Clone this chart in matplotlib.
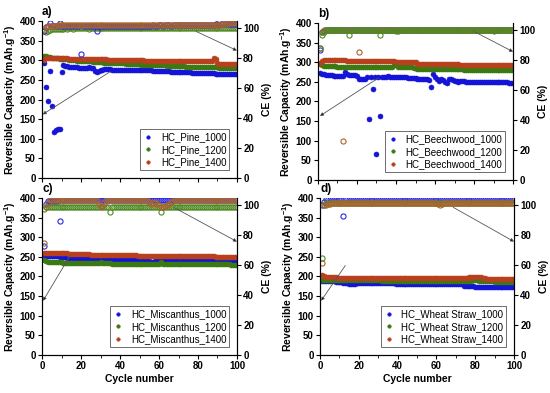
import matplotlib
matplotlib.use("Agg")
import matplotlib.pyplot as plt
from matplotlib.ticker import MultipleLocator

plt.rcParams['font.family'] = ['Liberation Sans', 'DejaVu Sans']
plt.rcParams['mathtext.fontset'] = 'custom'
plt.rcParams['mathtext.rm'] = 'Liberation Sans:bold'
plt.rcParams['mathtext.bf'] = 'Liberation Sans:bold'

cycles = list(range(1, 101))

# ---------------- a) Pine ----------------
pine_labels = ["HC_Pine_1000", "HC_Pine_1200", "HC_Pine_1400"]
pine_1000_cap = [
    293, 231, 197, 272, 184, 117, 122, 124, 125, 269,
    288, 286, 285, 284, 283, 283, 282, 282, 281, 281,
    281, 280, 281, 282, 281, 280, 272, 271, 273, 275,
    276, 277, 277, 277, 277, 276, 276, 276, 276, 276,
    275, 275, 275, 275, 275, 275, 275, 274, 274, 274,
    274, 274, 274, 274, 274, 274, 273, 273, 273, 273,
    273, 273, 273, 272, 272, 271, 270, 270, 270, 270,
    270, 270, 269, 269, 269, 269, 268, 268, 268, 268,
    268, 268, 268, 267, 267, 267, 267, 267, 266, 266,
    266, 266, 266, 266, 266, 265, 265, 265, 265, 265]
pine_1200_cap = [
    312, 310, 309, 308, 307, 306, 305, 305, 304, 303,
    303, 302, 302, 301, 301, 300, 300, 299, 299, 298,
    298, 298, 297, 297, 297, 296, 296, 296, 295, 295,
    295, 294, 294, 294, 293, 293, 293, 293, 292, 292,
    292, 292, 291, 291, 291, 291, 290, 290, 290, 290,
    289, 289, 289, 289, 288, 288, 288, 288, 288, 287,
    287, 287, 287, 286, 286, 286, 286, 286, 285, 285,
    285, 285, 285, 284, 284, 284, 284, 284, 283, 283,
    283, 283, 283, 283, 282, 282, 282, 282, 282, 282,
    281, 281, 281, 281, 281, 281, 281, 280, 280, 280]
pine_1400_cap = [
    300, 306, 307, 307, 306, 306, 306, 305, 305, 305,
    305, 305, 305, 304, 304, 304, 304, 304, 304, 303,
    303, 303, 303, 303, 303, 302, 302, 302, 302, 302,
    302, 302, 302, 301, 301, 301, 301, 301, 301, 301,
    301, 300, 300, 300, 300, 300, 300, 300, 300, 300,
    300, 300, 299, 299, 299, 299, 299, 299, 299, 299,
    299, 299, 299, 299, 298, 298, 298, 298, 298, 298,
    298, 298, 298, 298, 298, 297, 297, 297, 297, 297,
    297, 297, 297, 297, 297, 297, 297, 306, 303, 292,
    290, 290, 290, 290, 290, 290, 290, 290, 290, 290]
pine_1000_ce = [
    98.0, 100.8, 101.2, 103.3, 101.5, 101.6, 101.5, 101.7, 103.2, 101.6,
    101.6, 101.5, 101.6, 101.7, 101.6, 101.5, 101.6, 101.6, 101.7, 82.8,
    101.6, 101.5, 101.6, 101.6, 101.7, 101.6, 101.5, 97.8, 101.6, 101.6,
    101.6, 101.7, 101.6, 101.6, 101.5, 101.6, 101.7, 101.6, 101.6, 101.6,
    101.7, 101.6, 101.6, 101.7, 101.6, 101.6, 101.7, 101.7, 101.6, 101.7,
    101.7, 101.7, 101.6, 101.7, 101.7, 101.7, 101.8, 101.7, 101.7, 101.8,
    101.8, 101.7, 101.8, 101.8, 101.8, 101.7, 101.8, 101.8, 101.8, 101.8,
    101.8, 101.9, 101.8, 101.8, 101.9, 101.8, 101.9, 101.9, 101.8, 101.9,
    101.9, 101.9, 101.9, 102.0, 101.9, 102.0, 102.1, 102.3, 102.5, 102.4,
    102.3, 102.4, 102.5, 102.4, 102.5, 102.6, 102.5, 102.6, 102.7, 102.6]
pine_1200_ce = [
    97.8, 97.6, 97.9, 99.0, 99.4, 99.6, 99.6, 99.7, 99.7, 99.7,
    99.7, 99.8, 99.7, 99.8, 99.8, 99.7, 99.8, 99.8, 99.8, 99.8,
    99.8, 99.8, 99.8, 99.7, 99.8, 99.8, 99.8, 99.8, 99.8, 99.8,
    99.8, 99.8, 99.9, 99.8, 99.8, 99.8, 99.8, 99.9, 99.8, 99.8,
    99.8, 99.9, 99.8, 99.8, 99.9, 99.8, 99.8, 99.9, 99.8, 99.9,
    99.8, 99.9, 99.9, 99.8, 99.9, 99.9, 99.8, 99.9, 99.9, 99.9,
    99.9, 99.9, 99.8, 99.9, 99.9, 99.9, 99.9, 99.9, 99.9, 99.9,
    99.9, 99.9, 99.9, 99.9, 100.0, 99.9, 99.9, 100.0, 99.9, 100.0,
    100.0, 99.9, 100.0, 100.0, 100.0, 100.0, 100.0, 100.0, 100.0, 100.0,
    100.0, 100.0, 100.0, 100.0, 100.0, 100.0, 100.0, 100.0, 100.0, 100.0]
pine_1400_ce = [
    99.0, 100.5, 101.2, 101.5, 101.6, 101.7, 101.7, 101.8, 101.8, 101.8,
    101.8, 101.8, 101.8, 101.8, 101.9, 101.8, 101.8, 101.9, 101.8, 101.8,
    101.9, 101.8, 101.9, 101.8, 101.9, 101.9, 101.8, 101.9, 101.9, 101.8,
    101.9, 101.9, 101.9, 101.8, 101.9, 101.9, 101.9, 101.9, 101.9, 101.9,
    101.9, 101.9, 101.9, 101.9, 101.9, 101.9, 101.9, 101.9, 101.9, 101.9,
    101.9, 101.9, 101.9, 101.9, 102.0, 101.9, 101.9, 102.0, 101.9, 102.0,
    102.0, 101.9, 102.0, 102.0, 102.0, 102.0, 101.9, 102.0, 102.0, 102.0,
    102.0, 102.0, 102.0, 102.0, 102.0, 102.0, 102.0, 102.0, 102.0, 102.0,
    102.0, 102.0, 102.0, 102.0, 102.0, 102.0, 102.1, 102.0, 102.1, 102.1,
    102.2, 102.4, 102.6, 102.8, 103.0, 103.2, 103.4, 103.5, 103.6, 103.6]

# ---------------- b) Beechwood ----------------
beech_labels = ["HC_Beechwood_1000", "HC_Beechwood_1200", "HC_Beechwood_1400"]
beech_1000_cap = [
    272, 270, 269, 268, 268, 267, 267, 266, 266, 265,
    265, 265, 264, 275, 270, 268, 268, 267, 267, 266,
    258, 257, 258, 258, 262, 155, 263, 231, 263, 66,
    262, 163, 263, 263, 263, 264, 263, 263, 262, 262,
    262, 263, 262, 262, 262, 261, 261, 261, 261, 260,
    258, 258, 257, 257, 257, 257, 256, 238, 269, 262,
    258, 252, 258, 256, 250, 247, 257, 258, 256, 252,
    251, 250, 251, 252, 251, 250, 250, 250, 250, 250,
    250, 250, 250, 250, 250, 249, 249, 249, 249, 249,
    249, 249, 249, 249, 249, 249, 249, 248, 248, 248]
beech_1200_cap = [
    295, 292, 291, 291, 290, 290, 290, 290, 290, 289,
    289, 289, 289, 289, 289, 289, 289, 288, 288, 288,
    288, 288, 288, 288, 288, 288, 288, 288, 288, 288,
    288, 288, 288, 287, 287, 287, 287, 287, 292, 293,
    288, 287, 287, 287, 287, 287, 287, 287, 286, 286,
    283, 283, 283, 283, 283, 283, 283, 282, 282, 282,
    282, 282, 282, 282, 282, 282, 282, 282, 282, 282,
    282, 282, 282, 282, 281, 281, 281, 281, 281, 281,
    281, 281, 281, 281, 281, 281, 281, 281, 281, 281,
    281, 281, 281, 281, 281, 281, 281, 281, 281, 281]
beech_1400_cap = [
    298, 303, 305, 306, 306, 306, 306, 305, 305, 305,
    305, 305, 305, 305, 304, 304, 304, 304, 304, 304,
    304, 303, 303, 303, 303, 303, 303, 303, 303, 303,
    302, 302, 302, 302, 302, 302, 302, 302, 302, 301,
    301, 301, 301, 301, 301, 301, 300, 300, 300, 300,
    296, 296, 296, 296, 296, 296, 295, 295, 295, 295,
    295, 295, 295, 295, 295, 295, 295, 295, 295, 295,
    295, 295, 294, 294, 294, 294, 294, 294, 294, 294,
    294, 294, 294, 294, 294, 294, 294, 294, 294, 294,
    294, 294, 294, 294, 294, 294, 294, 294, 294, 294]
beech_1000_ce = [
    86.5, 98.5, 99.6, 99.9, 100.0, 100.0, 100.0, 100.0, 100.0, 100.0,
    100.0, 100.0, 100.0, 100.0, 100.0, 100.0, 100.0, 100.0, 100.0, 100.0,
    100.0, 100.0, 100.0, 100.0, 100.0, 100.0, 100.0, 100.0, 100.0, 100.0,
    100.0, 100.0, 100.0, 100.0, 100.0, 100.0, 100.0, 100.0, 100.0, 100.0,
    100.0, 100.0, 100.0, 100.0, 100.0, 100.0, 100.0, 100.0, 100.0, 100.0,
    100.0, 100.0, 100.0, 100.0, 100.0, 100.0, 100.0, 100.0, 100.0, 100.0,
    100.0, 100.0, 100.0, 100.0, 100.0, 100.0, 100.0, 100.0, 100.0, 100.0,
    100.0, 100.0, 100.0, 100.0, 100.0, 100.0, 100.0, 100.0, 100.0, 100.0,
    100.0, 100.0, 100.0, 100.0, 100.0, 100.0, 100.0, 100.0, 100.0, 100.0,
    100.0, 100.0, 100.0, 100.0, 100.0, 100.0, 100.0, 100.0, 100.0, 100.0]
beech_1200_ce = [
    88.0, 97.0, 99.0, 99.8, 100.1, 100.2, 100.2, 100.2, 100.2, 100.2,
    100.2, 100.2, 100.2, 100.2, 100.2, 96.7, 100.2, 100.2, 100.2, 100.2,
    100.2, 100.2, 100.2, 100.2, 100.2, 100.2, 100.2, 100.2, 100.2, 100.2,
    100.2, 97.0, 100.2, 100.2, 100.2, 100.2, 100.2, 100.2, 100.2, 99.3,
    99.4, 100.0, 100.2, 100.2, 100.2, 100.2, 100.2, 100.2, 100.2, 100.2,
    100.2, 100.2, 100.2, 100.2, 100.2, 100.2, 100.2, 100.2, 100.2, 100.2,
    100.2, 100.2, 100.2, 100.2, 100.2, 100.2, 100.2, 100.2, 100.2, 100.2,
    100.2, 100.2, 100.2, 100.2, 100.2, 100.2, 100.2, 100.2, 100.2, 100.2,
    100.2, 100.2, 100.2, 100.2, 100.2, 100.2, 100.2, 100.2, 100.2, 99.3,
    100.2, 100.2, 100.2, 100.2, 100.2, 100.2, 100.2, 100.2, 100.2, 100.2]
beech_1400_ce = [
    87.7, 99.0, 99.8, 100.0, 100.0, 100.0, 100.0, 100.0, 100.0, 100.0,
    100.0, 100.0, 25.7, 100.0, 100.0, 100.0, 100.0, 100.0, 100.0, 100.0,
    85.5, 100.0, 100.0, 100.0, 100.0, 100.0, 100.0, 100.0, 100.0, 100.0,
    100.0, 100.0, 100.0, 100.0, 100.0, 100.0, 100.0, 100.0, 100.0, 100.0,
    100.0, 100.0, 100.0, 100.0, 100.0, 100.0, 100.0, 100.0, 100.0, 100.0,
    100.0, 100.0, 100.0, 100.0, 100.0, 100.0, 100.0, 100.0, 100.0, 100.0,
    100.0, 100.0, 100.0, 100.0, 100.0, 100.0, 100.0, 100.0, 100.0, 100.0,
    100.0, 100.0, 100.0, 100.0, 100.0, 100.0, 100.0, 100.0, 100.0, 100.0,
    100.0, 100.0, 100.0, 100.0, 100.0, 100.0, 100.0, 100.0, 100.0, 100.0,
    100.0, 100.0, 100.0, 100.0, 100.0, 100.0, 100.0, 100.0, 100.0, 100.0]

# ---------------- c) Miscanthus ----------------
misc_labels = ["HC_Miscanthus_1000", "HC_Miscanthus_1200", "HC_Miscanthus_1400"]
misc_1000_cap = [
    254, 253, 253, 252, 252, 252, 251, 251, 250, 249,
    249, 249, 248, 248, 248, 248, 248, 248, 247, 247,
    247, 247, 247, 247, 247, 246, 246, 246, 246, 246,
    246, 246, 246, 245, 245, 245, 245, 245, 245, 245,
    245, 244, 244, 244, 244, 244, 244, 244, 244, 243,
    243, 243, 243, 243, 240, 238, 238, 240, 243, 242,
    242, 242, 242, 242, 242, 241, 241, 241, 241, 241,
    241, 241, 241, 241, 240, 240, 240, 240, 240, 240,
    240, 240, 240, 240, 240, 240, 239, 239, 239, 239,
    239, 239, 239, 239, 239, 239, 239, 239, 239, 239]
misc_1200_cap = [
    243, 240, 238, 237, 237, 237, 236, 236, 236, 236,
    235, 235, 235, 235, 235, 235, 234, 234, 234, 234,
    234, 234, 234, 234, 234, 234, 234, 234, 235, 236,
    234, 234, 234, 234, 234, 233, 233, 233, 233, 233,
    233, 233, 233, 233, 233, 233, 233, 233, 233, 233,
    233, 233, 233, 233, 233, 233, 233, 233, 233, 233,
    236, 233, 233, 233, 233, 233, 232, 232, 232, 232,
    232, 232, 232, 232, 232, 232, 232, 232, 232, 232,
    232, 231, 232, 232, 232, 231, 231, 231, 231, 231,
    231, 231, 231, 231, 231, 231, 230, 230, 230, 230]
misc_1400_cap = [
    260, 261, 261, 261, 261, 260, 260, 260, 260, 260,
    259, 259, 259, 258, 258, 258, 258, 258, 257, 257,
    257, 257, 257, 257, 256, 256, 256, 256, 256, 256,
    255, 255, 255, 255, 255, 255, 255, 255, 255, 254,
    254, 254, 254, 254, 254, 254, 254, 254, 253, 253,
    253, 253, 253, 253, 253, 253, 253, 253, 252, 252,
    252, 252, 252, 252, 252, 252, 252, 252, 252, 252,
    252, 252, 251, 251, 251, 251, 251, 251, 251, 251,
    251, 251, 251, 251, 251, 251, 251, 251, 250, 250,
    250, 250, 250, 250, 250, 250, 250, 250, 250, 250]
misc_1000_ce = [
    73.0, 100.5, 103.0, 103.0, 103.0, 103.0, 103.0, 103.0, 89.3, 103.3,
    103.3, 103.3, 103.3, 103.3, 103.3, 103.3, 103.3, 103.3, 103.3, 103.3,
    103.3, 103.3, 103.3, 103.3, 103.3, 103.3, 103.3, 103.3, 103.3, 103.3,
    103.3, 103.3, 103.3, 103.3, 103.3, 103.3, 103.3, 103.3, 103.3, 103.3,
    103.3, 103.3, 103.3, 103.3, 103.3, 103.3, 103.3, 103.3, 103.3, 103.3,
    103.3, 103.3, 103.3, 103.3, 103.3, 103.3, 103.3, 103.3, 103.3, 103.3,
    103.3, 103.3, 103.3, 103.3, 103.3, 103.3, 103.3, 103.3, 103.3, 103.3,
    103.3, 103.3, 103.3, 103.3, 103.3, 103.3, 103.3, 103.3, 103.3, 103.3,
    103.3, 103.3, 103.3, 103.3, 103.3, 103.3, 103.3, 103.3, 103.3, 103.3,
    103.3, 103.3, 103.3, 103.3, 103.3, 103.3, 103.3, 103.3, 103.3, 103.3]
misc_1200_ce = [
    97.3, 98.5, 98.8, 99.0, 99.0, 99.0, 99.0, 99.0, 99.0, 99.0,
    99.0, 99.0, 99.0, 99.0, 99.0, 99.0, 99.0, 99.0, 99.0, 99.0,
    99.0, 99.0, 99.0, 99.0, 99.0, 99.0, 99.0, 99.0, 99.0, 99.0,
    99.0, 99.0, 99.0, 99.0, 95.6, 99.0, 99.0, 99.0, 99.0, 99.0,
    99.0, 99.0, 99.0, 99.0, 99.0, 99.0, 99.0, 99.0, 99.0, 99.0,
    99.0, 99.0, 99.0, 99.0, 99.0, 99.0, 99.0, 99.0, 99.0, 99.0,
    95.6, 99.0, 99.0, 99.0, 99.0, 99.0, 99.0, 99.0, 99.0, 99.0,
    99.0, 99.0, 99.0, 99.0, 99.0, 99.0, 99.0, 99.0, 99.0, 99.0,
    99.0, 99.0, 99.0, 99.0, 99.0, 99.0, 99.0, 99.0, 99.0, 99.0,
    99.0, 99.0, 99.0, 99.0, 99.0, 99.0, 99.0, 99.0, 99.0, 99.0]
misc_1400_ce = [
    75.0, 98.5, 101.5, 103.5, 103.5, 103.5, 103.5, 103.5, 103.5, 103.5,
    103.5, 103.5, 103.5, 103.5, 103.5, 103.5, 103.5, 103.5, 103.5, 103.5,
    103.5, 103.5, 103.5, 103.5, 103.5, 103.5, 103.5, 103.5, 101.0, 99.3,
    99.3, 101.5, 103.5, 103.5, 103.5, 103.5, 103.5, 103.5, 103.5, 103.5,
    103.5, 103.5, 103.5, 103.5, 103.5, 103.5, 103.5, 103.5, 103.5, 103.5,
    103.5, 103.5, 103.5, 103.5, 102.0, 101.0, 101.5, 102.0, 101.0, 100.0,
    99.0, 99.0, 99.3, 100.0, 101.0, 102.0, 102.8, 103.5, 103.5, 103.5,
    103.5, 103.5, 103.5, 103.5, 103.5, 103.5, 103.5, 103.5, 103.5, 103.5,
    103.5, 103.5, 103.5, 103.5, 103.5, 103.5, 103.5, 103.5, 103.5, 103.5,
    103.5, 103.5, 103.5, 103.5, 103.5, 103.5, 103.5, 103.5, 103.5, 103.5]

# ---------------- d) Wheat Straw ----------------
wheat_labels = ["HC_Wheat Straw_1000", "HC_Wheat Straw_1200", "HC_Wheat Straw_1400"]
wheat_1000_cap = [
    189, 188, 188, 188, 188, 188, 188, 187, 187, 187,
    186, 184, 183, 183, 182, 182, 182, 182, 183, 183,
    183, 183, 183, 183, 183, 183, 183, 183, 183, 183,
    183, 183, 183, 183, 183, 183, 183, 183, 182, 182,
    182, 182, 182, 182, 182, 182, 182, 182, 182, 182,
    182, 182, 182, 182, 182, 182, 182, 182, 182, 182,
    182, 182, 182, 182, 182, 182, 182, 182, 182, 181,
    181, 181, 181, 176, 175, 175, 175, 175, 175, 174,
    173, 173, 173, 173, 173, 173, 173, 173, 173, 173,
    173, 173, 173, 173, 173, 173, 173, 173, 173, 173]
wheat_1200_cap = [
    191, 191, 190, 190, 190, 190, 190, 190, 190, 190,
    190, 190, 190, 190, 190, 190, 190, 190, 190, 190,
    190, 190, 190, 190, 190, 190, 190, 190, 190, 190,
    190, 189, 189, 189, 189, 189, 189, 189, 189, 189,
    189, 189, 189, 189, 189, 189, 189, 189, 189, 189,
    189, 189, 189, 189, 189, 189, 189, 189, 189, 189,
    189, 189, 189, 189, 189, 189, 189, 189, 189, 189,
    188, 188, 188, 188, 188, 188, 188, 189, 190, 190,
    190, 189, 188, 188, 188, 188, 188, 188, 188, 187,
    187, 187, 187, 187, 187, 187, 187, 187, 187, 187]
wheat_1400_cap = [
    205, 200, 199, 199, 198, 198, 198, 198, 197, 197,
    197, 196, 196, 196, 196, 196, 196, 196, 196, 196,
    196, 196, 196, 196, 195, 195, 195, 195, 195, 195,
    195, 195, 195, 195, 195, 195, 195, 195, 195, 195,
    195, 195, 195, 195, 195, 195, 195, 195, 195, 195,
    195, 195, 195, 195, 195, 195, 195, 195, 195, 196,
    196, 196, 195, 195, 195, 195, 195, 195, 195, 195,
    195, 195, 195, 195, 196, 197, 198, 199, 199, 199,
    199, 199, 198, 197, 195, 194, 194, 194, 194, 194,
    194, 194, 194, 194, 194, 194, 194, 194, 194, 194]
wheat_1000_ce = [
    100.0, 102.0, 103.8, 103.8, 103.8, 103.8, 103.8, 103.8, 103.8, 103.8,
    103.8, 93.0, 104.0, 104.0, 104.0, 104.0, 104.0, 104.0, 104.0, 104.0,
    104.0, 104.0, 104.0, 104.0, 104.0, 104.0, 104.0, 104.0, 104.0, 104.0,
    104.0, 104.0, 104.0, 104.0, 104.0, 104.0, 104.0, 104.0, 104.0, 104.0,
    104.0, 104.0, 104.0, 104.0, 104.0, 104.0, 104.0, 104.0, 104.0, 104.0,
    104.0, 104.0, 104.0, 104.0, 104.0, 104.0, 104.0, 104.0, 104.0, 104.0,
    104.0, 104.0, 104.0, 104.0, 104.0, 104.0, 104.0, 104.0, 104.0, 104.0,
    104.0, 104.0, 104.0, 104.0, 104.0, 104.0, 104.0, 104.0, 104.0, 104.0,
    104.0, 104.0, 104.0, 104.0, 104.0, 104.0, 104.0, 104.0, 104.0, 104.0,
    104.0, 104.0, 104.0, 104.0, 104.0, 104.0, 104.0, 104.0, 104.0, 104.0]
wheat_1200_ce = [
    64.9, 100.0, 101.2, 101.2, 101.2, 101.2, 101.2, 101.2, 101.2, 101.2,
    101.2, 101.2, 101.2, 101.2, 101.2, 101.2, 101.2, 101.2, 101.2, 101.2,
    101.2, 101.2, 101.2, 101.2, 101.2, 101.2, 101.2, 101.2, 101.2, 101.2,
    101.2, 101.2, 101.2, 101.2, 101.2, 101.2, 101.2, 101.2, 101.2, 101.2,
    101.2, 101.2, 101.2, 101.2, 101.2, 101.2, 101.2, 101.2, 101.2, 101.2,
    101.2, 101.2, 101.2, 101.2, 101.2, 101.2, 101.2, 101.2, 101.2, 101.2,
    101.2, 101.2, 101.2, 101.2, 101.2, 101.2, 101.2, 101.2, 101.2, 101.2,
    101.2, 101.2, 101.2, 101.2, 101.2, 101.2, 101.2, 101.2, 101.2, 101.2,
    101.2, 101.2, 101.2, 101.2, 101.2, 101.2, 101.2, 101.2, 101.2, 101.2,
    101.2, 101.2, 101.2, 101.2, 101.2, 101.2, 101.2, 101.2, 101.2, 101.2]
wheat_1400_ce = [
    61.1, 100.3, 99.8, 100.5, 101.0, 101.6, 101.6, 101.6, 101.6, 101.6,
    101.6, 101.6, 101.6, 101.6, 101.6, 101.6, 101.6, 101.6, 101.6, 101.6,
    101.6, 101.6, 101.6, 101.6, 101.6, 101.6, 101.6, 101.6, 101.6, 101.6,
    101.6, 101.6, 101.6, 101.6, 101.6, 101.6, 101.6, 101.6, 101.6, 101.6,
    101.6, 101.6, 101.6, 101.6, 101.6, 101.6, 101.6, 101.6, 101.6, 101.6,
    101.6, 101.6, 101.6, 101.6, 101.6, 101.6, 101.6, 101.6, 101.6, 101.6,
    101.0, 100.2, 100.5, 101.2, 101.6, 101.6, 101.6, 101.6, 101.6, 101.6,
    101.6, 101.6, 101.6, 101.6, 101.6, 101.6, 101.6, 101.6, 101.6, 101.6,
    101.6, 101.6, 101.6, 101.6, 101.6, 101.6, 101.6, 101.6, 101.6, 101.6,
    101.6, 101.6, 101.6, 101.6, 101.6, 101.6, 101.6, 101.6, 101.6, 101.6]

cap_colors = ['#1414d8', '#3b7a12', '#b8401c']
ce_colors = ['#2a2ae0', '#4f8a22', '#a8642e']


def draw_panel(rect, letter, labels, caps, ces, left_arrow, right_arrow,
               ce_order, show_x):
    ax = fig.add_axes(rect)
    ax2 = ax.twinx()
    handles = []
    for i in range(3):
        h, = ax.plot(cycles, caps[i], 'o', ms=3.6, mfc=cap_colors[i],
                     mec=cap_colors[i], mew=0.4, label=labels[i])
        handles.append(h)
    for i in ce_order:
        ax2.plot(cycles, ces[i], 'o', ms=3.7, mfc='none', mec=ce_colors[i],
                 mew=0.8)

    ax.set_xlim(0, 100)
    ax.set_ylim(0, 400)
    ax2.set_ylim(0, 104.7)
    ax.xaxis.set_major_locator(MultipleLocator(20))
    ax.xaxis.set_minor_locator(MultipleLocator(10))
    ax.yaxis.set_major_locator(MultipleLocator(50))
    ax2.yaxis.set_major_locator(MultipleLocator(20))
    for a in (ax, ax2):
        a.tick_params(which='major', length=3, width=0.8, labelsize=7, pad=1.5)
        a.tick_params(which='minor', length=2, width=0.6)
        for s in a.spines.values():
            s.set_linewidth(0.8)
        a.spines['top'].set_visible(False)
        for t in a.get_yticklabels() + a.get_xticklabels():
            t.set_fontweight('bold')
    if not show_x:
        ax.tick_params(labelbottom=False)
    else:
        ax.set_xlabel('Cycle number', fontsize=7.5, fontweight='bold', labelpad=2)

    ax.set_ylabel(r'Reversible Capacity (mAh.g$^{-1}$)', fontsize=7.5,
                  fontweight='bold', labelpad=1)
    ax2.set_ylabel('CE (%)', fontsize=7.5, fontweight='bold', labelpad=2)
    ax.text(0.0, 1.06, letter, transform=ax.transAxes, fontsize=8.5,
            fontweight='bold', ha='left', va='center')

    aprops = dict(arrowstyle='-|>', ec='#555555', fc='black', lw=0.6,
                  mutation_scale=5, shrinkA=0, shrinkB=0)
    ax.annotate('', xy=left_arrow[1], xytext=left_arrow[0],
                arrowprops=aprops, annotation_clip=False)
    ax2.annotate('', xy=right_arrow[1], xytext=right_arrow[0],
                 arrowprops=aprops, annotation_clip=False)

    leg = ax2.legend(handles=handles, loc='lower right', fontsize=7,
                     frameon=True, fancybox=False, framealpha=1,
                     edgecolor='#555555', handlelength=1.0, handletextpad=0.8,
                     borderpad=0.3, labelspacing=0.25, markerscale=0.7,
                     bbox_to_anchor=(0.985, 0.02))
    leg.get_frame().set_linewidth(0.6)
    return ax, ax2


fig = plt.figure(figsize=(5.5, 3.93), dpi=100)

draw_panel([0.0764, 0.547, 0.3545, 0.3995], 'a)', pine_labels,
           [pine_1000_cap, pine_1200_cap, pine_1400_cap],
           [pine_1000_ce, pine_1200_ce, pine_1400_ce],
           ((35, 271), (0.3, 162)), ((79, 97.8), (100, 85)), [1, 0, 2], False)
draw_panel([0.578, 0.542, 0.355, 0.3995], 'b)', beech_labels,
           [beech_1000_cap, beech_1200_cap, beech_1400_cap],
           [beech_1000_ce, beech_1200_ce, beech_1400_ce],
           ((31, 260), (1, 163)), ((80, 99), (100, 85.5)), [0, 2, 1], False)
draw_panel([0.0764, 0.0967, 0.3545, 0.3995], 'c)', misc_labels,
           [misc_1000_cap, misc_1200_cap, misc_1400_cap],
           [misc_1000_ce, misc_1200_ce, misc_1400_ce],
           ((14.5, 254), (0.5, 138)), ((67.5, 98.5), (100, 75.6)), [0, 1, 2], True)
draw_panel([0.582, 0.0967, 0.3527, 0.3995], 'd)', wheat_labels,
           [wheat_1000_cap, wheat_1200_cap, wheat_1400_cap],
           [wheat_1000_ce, wheat_1200_ce, wheat_1400_ce],
           ((13, 228), (0.5, 138)), ((68.6, 98.5), (100, 75.6)), [0, 1, 2], True)

fig.savefig('out.png', dpi=100)
